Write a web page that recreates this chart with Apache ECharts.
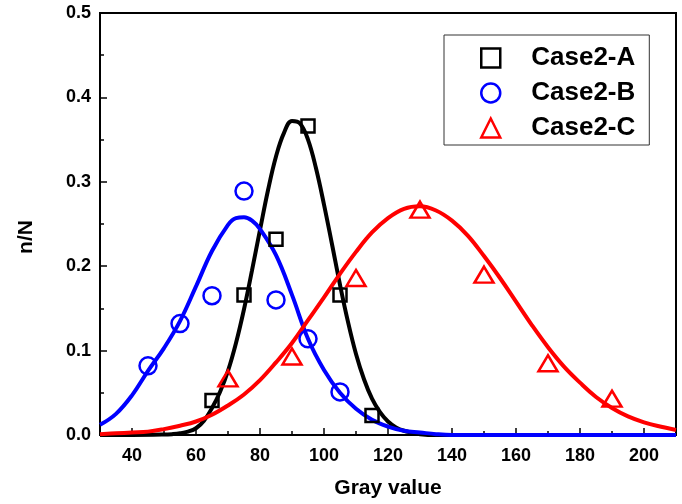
<!DOCTYPE html>
<html>
<head>
<meta charset="utf-8">
<script src="https://cdn.jsdelivr.net/npm/echarts@6/dist/echarts.min.js"></script>
<style>
  html, body { margin: 0; padding: 0; background: #fff; }
  #chart { width: 682px; height: 504px; }
</style>
</head>
<body>
<div id="chart"></div>
<script>
// measured points
const caseAX = [65, 75, 85, 95, 105, 115]
const caseAY = [0.041, 0.166, 0.232, 0.366, 0.166, 0.023]
const caseBX = [45, 55, 65, 75, 85, 95, 105]
const caseBY = [0.082, 0.132, 0.165, 0.289, 0.160, 0.114, 0.051]
const caseCX = [70, 90, 110, 130, 150, 170, 190]
const caseCY = [0.067, 0.093, 0.186, 0.267, 0.190, 0.085, 0.043]

// fitted curves
const caseAFitX = [30, 40, 50, 52.5, 55, 57.5, 60, 62.5, 65, 67.5, 70, 72.5, 75, 77.5, 80, 82.5, 85, 87.5, 90, 92.5, 95, 97.5, 100, 102.5, 105, 107.5, 110, 112.5, 115, 117.5, 120, 122.5, 125, 127.5, 130, 135, 140, 150, 170, 190, 210]
const caseAFitY = [0, 0, 0.0005, 0.001, 0.002, 0.004, 0.008, 0.017, 0.032, 0.051, 0.076, 0.109, 0.149, 0.195, 0.243, 0.290, 0.330, 0.358, 0.372, 0.369, 0.350, 0.316, 0.273, 0.226, 0.178, 0.134, 0.096, 0.066, 0.043, 0.027, 0.016, 0.009, 0.005, 0.003, 0.001, 0, 0, 0, 0, 0, 0]
const caseBFitX = [30, 35, 40, 45, 50, 55, 60, 65, 70, 72.5, 75, 77.5, 80, 85, 90, 95, 100, 105, 110, 115, 120, 125, 130, 135, 140, 150, 170, 190, 210]
const caseBFitY = [0.012, 0.025, 0.047, 0.076, 0.103, 0.135, 0.176, 0.218, 0.249, 0.257, 0.258, 0.254, 0.244, 0.213, 0.166, 0.114, 0.077, 0.050, 0.031, 0.018, 0.010, 0.005, 0.003, 0.001, 0, 0, 0, 0, 0]
const caseCFitX = [30, 35, 40, 45, 50, 55, 60, 65, 70, 75, 80, 85, 90, 95, 100, 105, 110, 115, 120, 125, 130, 135, 140, 145, 150, 155, 160, 165, 170, 175, 180, 185, 190, 195, 200, 205, 210]
const caseCFitY = [0.001, 0.002, 0.003, 0.004, 0.007, 0.011, 0.016, 0.024, 0.035, 0.048, 0.065, 0.086, 0.109, 0.136, 0.163, 0.191, 0.217, 0.240, 0.257, 0.268, 0.271, 0.266, 0.254, 0.236, 0.212, 0.186, 0.158, 0.130, 0.104, 0.081, 0.062, 0.045, 0.032, 0.022, 0.015, 0.010, 0.006]

// axis ticks
const xMajorTicks = [40, 60, 80, 100, 120, 140, 160, 180, 200]
const xMinorTicks = [30, 50, 70, 90, 110, 130, 150, 170, 190, 210]

const zip = (xs, ys) => xs.map((x, i) => [x, ys[i]])

const font = 'Liberation Sans, Arial, sans-serif'

const chart = echarts.init(document.getElementById('chart'))

const fitLine = (data, color) => ({
  type: 'line',
  data: data,
  smooth: 0.4,
  showSymbol: false,
  symbol: 'none',
  silent: true,
  lineStyle: { color: color, width: 4 }
})

const points = (name, data, color, symbol, size) => ({
  name: name,
  type: 'scatter',
  data: data,
  symbol: symbol,
  symbolSize: size,
  itemStyle: { color: 'transparent', borderColor: color, borderWidth: 2.5, opacity: 1 },
  z: 5
})

chart.setOption({
  backgroundColor: '#fff',
  animation: false,
  grid: {
    left: 100, right: 6, top: 13, bottom: 65,
    show: true, borderColor: '#000', borderWidth: 2
  },
  legend: {
    orient: 'vertical',
    left: 444, top: 35,
    padding: [9, 14, 3, 36],
    itemGap: 7,
    itemWidth: 19, itemHeight: 19,
    borderColor: '#333', borderWidth: 1,
    itemStyle: { borderWidth: 2.5, opacity: 1 },
    textStyle: {
      fontFamily: font, fontWeight: 'bold', fontSize: 26, color: '#000',
      lineHeight: 28, padding: [0, 0, 0, 26]
    },
    data: ['Case2-A', 'Case2-B', 'Case2-C']
  },
  xAxis: [
    {
      type: 'value', min: 30, max: 210,
      axisLine: { lineStyle: { color: '#000', width: 2 } },
      axisTick: { inside: true, length: 4, customValues: xMinorTicks, lineStyle: { color: '#000', width: 1.5 } },
      axisLabel: { show: false },
      splitLine: { show: false }
    },
    {
      type: 'value', min: 30, max: 210, position: 'bottom',
      name: 'Gray value', nameLocation: 'middle', nameGap: 43,
      nameTextStyle: { fontFamily: font, fontWeight: 'bold', fontSize: 21, color: '#000' },
      axisLine: { show: false },
      axisTick: { inside: true, length: 7, customValues: xMajorTicks, lineStyle: { color: '#000', width: 1.5 } },
      axisLabel: {
        customValues: xMajorTicks, margin: 12,
        fontFamily: font, fontWeight: 'bold', fontSize: 18, color: '#000'
      },
      splitLine: { show: false }
    }
  ],
  yAxis: {
    type: 'value', min: 0, max: 0.5, interval: 0.1,
    name: 'n/N', nameLocation: 'middle', nameGap: 63,
    nameTextStyle: {
      fontFamily: font, fontWeight: 'bold', fontSize: 21, color: '#000',
      padding: [0, 26, 0, 0]
    },
    axisLine: { show: true, lineStyle: { color: '#000', width: 2 } },
    axisTick: { inside: true, length: 7, lineStyle: { color: '#000', width: 1.5 } },
    minorTick: { show: true, splitNumber: 2, length: 4, lineStyle: { color: '#000', width: 1.5 } },
    axisLabel: {
      margin: 9, fontFamily: font, fontWeight: 'bold', fontSize: 18, color: '#000',
      formatter: v => v.toFixed(1)
    },
    splitLine: { show: false }
  },
  series: [
    fitLine(zip(caseAFitX, caseAFitY), '#000000'),
    fitLine(zip(caseBFitX, caseBFitY), '#0000ff'),
    fitLine(zip(caseCFitX, caseCFitY), '#ff0000'),
    points('Case2-A', zip(caseAX, caseAY), '#000000', 'rect', 13),
    points('Case2-B', zip(caseBX, caseBY), '#0000ff', 'circle', 17),
    points('Case2-C', zip(caseCX, caseCY), '#ff0000', 'triangle', [19, 16])
  ]
})
</script>
</body>
</html>
